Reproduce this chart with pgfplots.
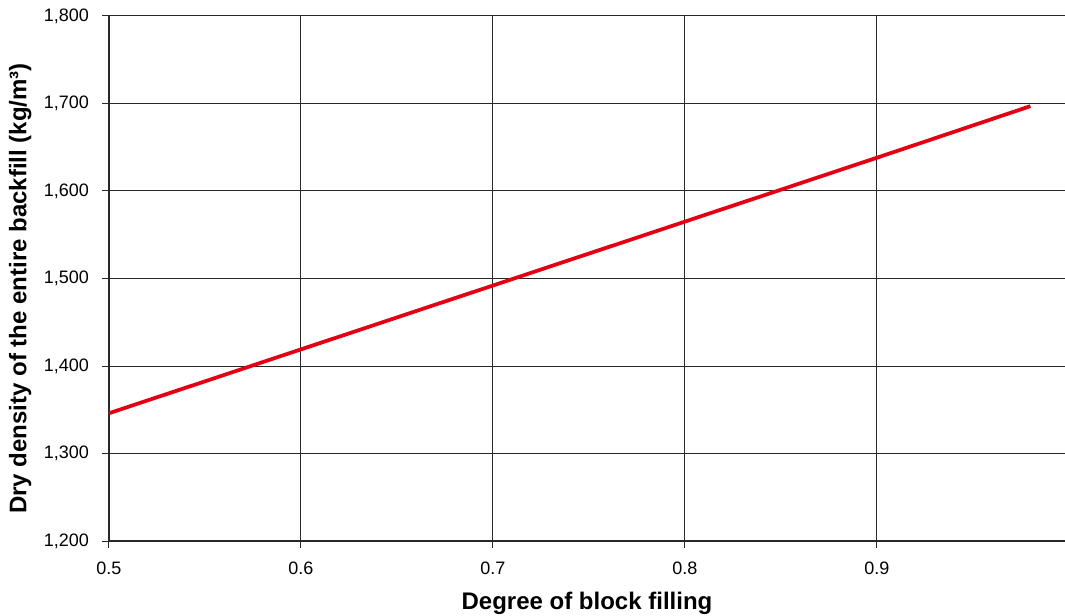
\documentclass[border=0pt]{standalone}
\usepackage{fontspec}
\setmainfont{Liberation Sans}
\usepackage{pgfplots}
\pgfplotsset{compat=1.18}
\definecolor{linered}{RGB}{228,0,18}
\definecolor{gridc}{RGB}{40,40,40}
\begin{document}
\begin{tikzpicture}[x=1pt,y=1pt]
\begin{axis}[
  name=ax,
  scale only axis,
  width=717pt, height=393.75pt,
  xmin=0.5, xmax=0.998,
  ymin=1200, ymax=1800,
  axis lines*=left,
  axis line style={gridc, line width=0.8pt},
  xtick={0.5,0.6,0.7,0.8,0.9},
  ytick={1200,1300,1400,1500,1600,1700,1800},
  grid=major,
  major grid style={gridc, line width=0.75pt},
  tick align=outside,
  major tick length=5pt,
  tick style={gridc, line width=0.75pt},
  /pgf/number format/assume math mode=true,
  /pgf/number format/1000 sep={,},
  xticklabel style={/pgf/number format/fixed, /pgf/number format/precision=1, font=\fontsize{13.5}{15}\selectfont, yshift=-7.5pt},
  yticklabel style={font=\fontsize{13.5}{15}\selectfont, xshift=-6.5pt},
  xlabel={\textbf{Degree of block filling}},
  ylabel={\textbf{Dry density of the entire backfill (kg/m³)}},
  label style={font=\fontsize{18}{20}\selectfont},
  xlabel style={yshift=-6pt},
  ylabel style={yshift=2.5pt, xshift=-7.5pt},
  clip=false,
]
\addplot[linered, line width=2.8pt] coordinates {
  (0.50,1346) (0.60,1419) (0.70,1492) (0.80,1565) (0.90,1638) (0.98,1697)
};
\end{axis}
\pgfresetboundingbox
\path ([xshift=-81.75pt,yshift=-55.5pt]ax.south west) rectangle ([yshift=12pt]ax.north east);
\end{tikzpicture}
\end{document}
